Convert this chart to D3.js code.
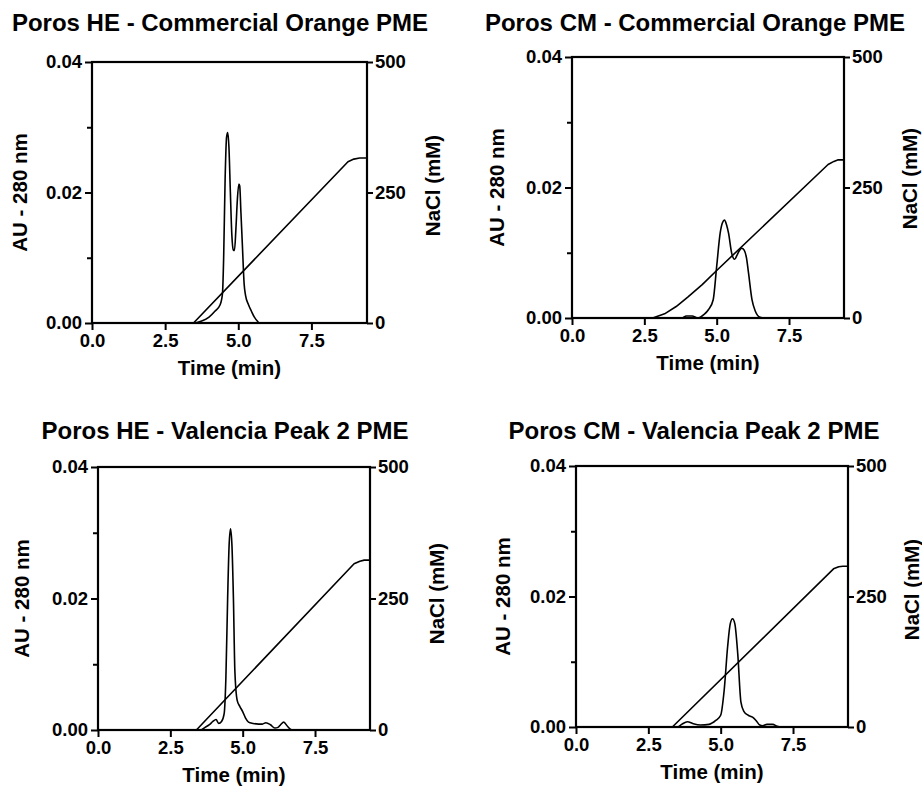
<!DOCTYPE html>
<html>
<head>
<meta charset="utf-8">
<script src="https://cdn.jsdelivr.net/npm/d3@7"></script>
<style>
body { margin: 0; background: #fff; }
svg text { font-family: "Liberation Sans", Arial, Helvetica, sans-serif; font-weight: bold; fill: #000; }
</style>
</head>
<body>
<div id="chart"></div>
<script>
// tick values
let xTicks = [0, 2.5, 5, 7.5];
let auTicks = [0, 0.02, 0.04];
let auMinorTicks = [0.01, 0.03];
let naclTicks = [0, 250, 500];

let titles = ["Poros HE - Commercial Orange PME",
"Poros CM - Commercial Orange PME",
"Poros HE - Valencia Peak 2 PME",
"Poros CM - Valencia Peak 2 PME"];

// Poros HE - commercial orange
let heOrangeTime = [0, 3.45, 3.75, 4.0, 4.2, 4.38, 4.46, 4.5, 4.55, 4.6, 4.64, 4.68, 4.73, 4.78, 4.83, 4.87, 4.92, 4.97, 5.02, 5.05, 5.09, 5.14, 5.2, 5.25, 5.35, 5.45, 5.55, 5.65, 5.72, 9.4];
let heOrangeAU = [0, 0, 0.0003, 0.0009, 0.0018, 0.0028, 0.0045, 0.010, 0.022, 0.0285, 0.0292, 0.027, 0.020, 0.0135, 0.0112, 0.0111, 0.0145, 0.019, 0.0213, 0.021, 0.017, 0.012, 0.006, 0.0042, 0.0028, 0.0018, 0.0009, 0.0003, 0, 0];
let heOrangeSaltTime = [3.47, 8.75, 8.95, 9.15, 9.4];
let heOrangeSalt = [0, 309, 314, 316, 316];

// Poros CM - commercial orange
let cmOrangeTime = [0, 3.8, 3.95, 4.15, 4.35, 4.55, 4.72, 4.88, 5.0, 5.12, 5.2, 5.27, 5.34, 5.41, 5.52, 5.62, 5.7, 5.78, 5.87, 5.95, 6.03, 6.1, 6.22, 6.34, 6.5, 6.65, 9.4];
let cmOrangeAU = [0, 0, 0.0003, 0.0003, 0, 0.0005, 0.0013, 0.0028, 0.0079, 0.013, 0.0146, 0.015, 0.0143, 0.013, 0.0099, 0.009, 0.0096, 0.0103, 0.0107, 0.0104, 0.0092, 0.0069, 0.0028, 0.001, 0.0001, 0, 0];
let cmOrangeSaltTime = [2.79, 3.2, 3.6, 4.0, 4.5, 5.0, 8.85, 9.05, 9.2, 9.4];
let cmOrangeSalt = [0, 8, 22, 40, 64, 91, 294, 300, 303, 303];

// Poros HE - valencia peak 2
let heValenciaTime = [0, 3.55, 3.7, 3.85, 3.97, 4.08, 4.17, 4.27, 4.36, 4.42, 4.48, 4.53, 4.58, 4.63, 4.68, 4.73, 4.81, 4.9, 5.0, 5.1, 5.2, 5.36, 5.55, 5.68, 5.8, 5.96, 6.11, 6.22, 6.31, 6.42, 6.54, 6.66, 6.75, 9.4];
let heValenciaAU = [0, 0, 0.0004, 0.0008, 0.0013, 0.0016, 0.001, 0.0013, 0.0025, 0.008, 0.02, 0.028, 0.0306, 0.028, 0.02, 0.009, 0.0045, 0.0036, 0.0028, 0.0018, 0.0012, 0.001, 0.0009, 0.0009, 0.0011, 0.0008, 0.0003, 0.0004, 0.0008, 0.0012, 0.0006, 0.0001, 0, 0];
let heValenciaSaltTime = [3.40, 8.85, 9.05, 9.2, 9.4];
let heValenciaSalt = [0, 316, 321, 323, 323];

// Poros CM - valencia peak 2
let cmValenciaTime = [0, 3.5, 3.65, 3.85, 4.05, 4.3, 4.6, 4.83, 5.0, 5.12, 5.24, 5.33, 5.41, 5.49, 5.59, 5.7, 5.8, 5.95, 6.1, 6.22, 6.35, 6.45, 6.6, 6.8, 6.95, 7.1, 9.4];
let cmValenciaAU = [0, 0, 0.0004, 0.0008, 0.0005, 0.0003, 0.0004, 0.001, 0.0018, 0.0056, 0.0123, 0.0158, 0.0166, 0.0158, 0.0112, 0.0038, 0.0024, 0.0018, 0.0015, 0.001, 0.0003, 0.0002, 0.0004, 0.0004, 0.0001, 0, 0];
let cmValenciaSaltTime = [3.33, 8.9, 9.08, 9.22, 9.4];
let cmValenciaSalt = [0, 303, 307, 308, 308];

let panels = [
  {left: 92, top: 62, width: 275, height: 261, titleX: 220, titleY: 31, auX: 20, saltX: 433, saltY: -7,
   time: heOrangeTime, au: heOrangeAU, saltTime: heOrangeSaltTime, salt: heOrangeSalt},
  {left: 572, top: 57, width: 272, height: 261, titleX: 695, titleY: 31, auX: 497, saltX: 910, saltY: -9,
   time: cmOrangeTime, au: cmOrangeAU, saltTime: cmOrangeSaltTime, salt: cmOrangeSalt},
  {left: 98, top: 467, width: 272, height: 263, titleX: 225, titleY: 439, auX: 22, saltX: 437, saltY: -5,
   time: heValenciaTime, au: heValenciaAU, saltTime: heValenciaSaltTime, salt: heValenciaSalt},
  {left: 576, top: 466, width: 272, height: 261, titleX: 694, titleY: 439, auX: 503, saltX: 912, saltY: -7,
   time: cmValenciaTime, au: cmValenciaAU, saltTime: cmValenciaSaltTime, salt: cmValenciaSalt}
];

let svg = d3.select("#chart")
    .append("svg")
    .attr("width", 922)
    .attr("height", 794);

svg.append("rect").attr("width", 922).attr("height", 794).attr("fill", "#fff");

function styleAxis(g) {
    g.attr("font-family", null).attr("font-size", null);
    g.selectAll(".domain").remove();
    g.selectAll(".tick line").attr("stroke", "#000").attr("stroke-width", 2);
    g.selectAll(".tick text").style("font-size", "18.5px");
}

panels.forEach(function(p, i) {
    let g = svg.append("g")
        .attr("transform", `translate(${p.left},${p.top})`);

    let x = d3.scaleLinear().domain([0, 9.4]).range([0, p.width]);
    let y = d3.scaleLinear().domain([0, 0.04]).range([p.height, 0]);
    let y2 = d3.scaleLinear().domain([0, 500]).range([p.height, 0]);

    // axes
    g.append("g")
        .attr("transform", `translate(0,${p.height})`)
        .call(d3.axisBottom(x).tickValues(xTicks).tickSize(7).tickPadding(4).tickFormat(d3.format(".1f")))
        .call(styleAxis);

    g.append("g")
        .call(d3.axisLeft(y).tickValues(auTicks).tickSize(7).tickPadding(3).tickFormat(d3.format(".2f")))
        .call(styleAxis);

    g.append("g")
        .call(d3.axisLeft(y).tickValues(auMinorTicks).tickSize(5).tickFormat(""))
        .call(styleAxis);

    g.append("g")
        .attr("transform", `translate(${p.width},0)`)
        .call(d3.axisRight(y2).tickValues(naclTicks).tickSize(6).tickPadding(2))
        .call(styleAxis);

    // frame
    g.append("rect")
        .attr("width", p.width)
        .attr("height", p.height)
        .attr("fill", "none")
        .attr("stroke", "#000")
        .attr("stroke-width", 2.2);

    // salt gradient
    let saltLine = d3.line()
        .x(function(d) { return x(d[0]); })
        .y(function(d) { return y2(d[1]); });

    g.append("path")
        .datum(d3.zip(p.saltTime, p.salt))
        .attr("d", saltLine)
        .attr("fill", "none")
        .attr("stroke", "#000")
        .attr("stroke-width", 1.6)
        .attr("stroke-linejoin", "round");

    // absorbance
    let auLine = d3.line()
        .x(function(d) { return x(d[0]); })
        .y(function(d) { return y(d[1]); })
        .curve(d3.curveMonotoneX);

    g.append("path")
        .datum(d3.zip(p.time, p.au))
        .attr("d", auLine)
        .attr("fill", "none")
        .attr("stroke", "#000")
        .attr("stroke-width", 1.6);

    // labels
    svg.append("text")
        .attr("x", p.titleX)
        .attr("y", p.titleY)
        .style("text-anchor", "middle")
        .style("font-size", "24px")
        .text(titles[i]);

    g.append("text")
        .attr("x", p.width / 2)
        .attr("y", p.height + 52)
        .style("text-anchor", "middle")
        .style("font-size", "20.5px")
        .text("Time (min)");

    svg.append("text")
        .attr("transform", `translate(${p.auX},${p.top + p.height / 2}) rotate(-90)`)
        .attr("dy", "0.35em")
        .style("text-anchor", "middle")
        .style("font-size", "20.5px")
        .text("AU - 280 nm");

    svg.append("text")
        .attr("transform", `translate(${p.saltX},${p.top + p.height / 2 + p.saltY}) rotate(-90)`)
        .attr("dy", "0.35em")
        .style("text-anchor", "middle")
        .style("font-size", "20.5px")
        .text("NaCl (mM)");
});
</script>
</body>
</html>
